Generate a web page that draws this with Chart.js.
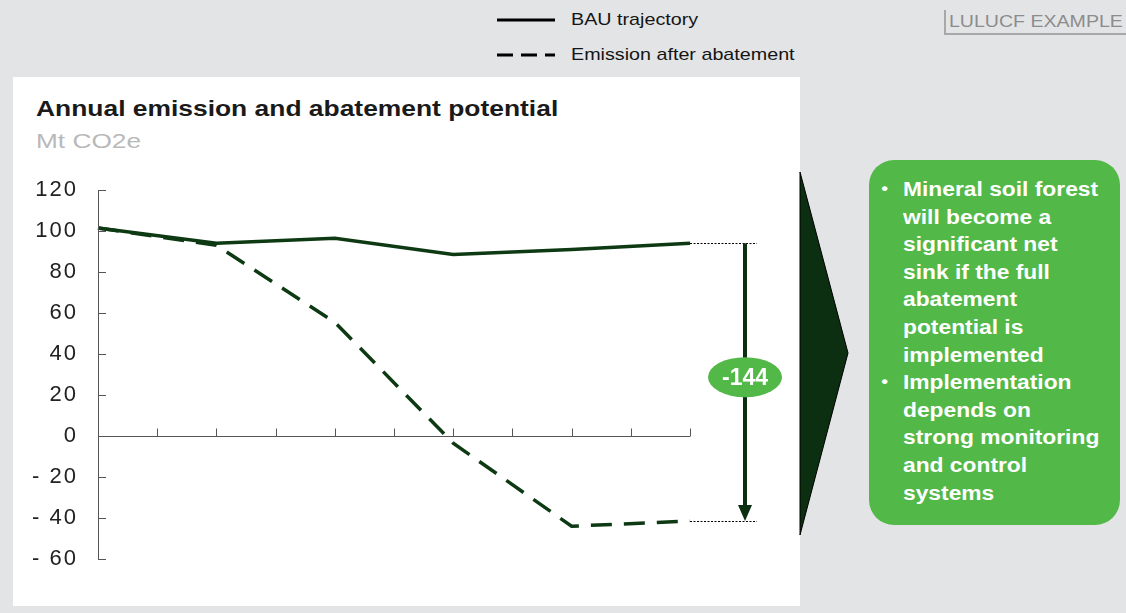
<!DOCTYPE html>
<html>
<head>
<meta charset="utf-8">
<script src="https://cdn.jsdelivr.net/npm/chart.js@4.4.1/dist/chart.umd.min.js"></script>
<style>
  html, body { margin: 0; padding: 0; }
  body { width: 1126px; height: 613px; background: #e3e4e6; position: relative; overflow: hidden;
         font-family: "Liberation Sans", Arial, sans-serif; }
  .abs { position: absolute; }
  .wide { transform-origin: 0 50%; white-space: nowrap; }
  #panel { left: 13px; top: 77px; width: 787px; height: 529px; background: #ffffff; }
  #title { left: 36px; top: 96px; font-size: 22px; font-weight: bold; color: #1a1a1a; transform: scaleX(1.2); }
  #unit { left: 36px; top: 129px; font-size: 21px; color: #b9b9b9; transform: scaleX(1.25); }
  .legtxt { left: 571px; font-size: 17px; color: #151515; transform: scaleX(1.16); }
  #tag { left: 944px; top: 10px; width: 182px; height: 25px; border-left: 2px solid #a8a8a8;
         border-bottom: 2px solid #a8a8a8; box-sizing: border-box; }
  #tag span { position: absolute; left: 3px; top: 1px; color: #8c8c8c; font-size: 17px; line-height: 22px;
              transform: scaleX(1.15); }
  #box { left: 869px; top: 160px; width: 251px; height: 365px; background: #52b848; border-radius: 25px; }
  #box ul { position: absolute; left: 34px; top: 16px; margin: 0; padding: 0; list-style: none; color: #fff;
            font-weight: bold; font-size: 20px; line-height: 27.6px; transform: scaleX(1.14); transform-origin: 0 0;
            white-space: nowrap; }
  #box li { position: relative; }
  #box li::before { content: "\2022"; position: absolute; left: -19px; top: -1px; font-size: 17px; }
  #chart { left: 0; top: 0; }
</style>
</head>
<body>
<div id="panel" class="abs"></div>
<div id="title" class="abs wide">Annual emission and abatement potential</div>
<div id="unit" class="abs wide">Mt CO2e</div>

<svg class="abs" style="left:0;top:0" width="1126" height="80">
  <line x1="497" y1="20" x2="555" y2="20" stroke="#000" stroke-width="3"/>
  <line x1="497" y1="55" x2="555" y2="55" stroke="#000" stroke-width="3" stroke-dasharray="16,8"/>
</svg>
<div class="abs legtxt wide" style="top:10px">BAU trajectory</div>
<div class="abs legtxt wide" style="top:45px">Emission after abatement</div>
<div id="tag" class="abs"><span class="wide">LULUCF EXAMPLE</span></div>

<svg class="abs" style="left:0;top:0" width="1126" height="613">
  <polygon points="800,172 848,353 800,535" fill="#0c2e11" stroke="#000" stroke-width="1"/>
</svg>

<div id="box" class="abs">
  <ul>
    <li>Mineral soil forest<br>will become a<br>significant net<br>sink if the full<br>abatement<br>potential is<br>implemented</li>
    <li>Implementation<br>depends on<br>strong monitoring<br>and control<br>systems</li>
  </ul>
</div>

<canvas id="chart" class="abs" width="1126" height="613"></canvas>

<script>
// Periods along the horizontal axis (not labelled)
const periods = ['0', '1', '2', '3', '4', '5', '6', '7', '8', '9', '10'];
// Business-as-usual trajectory, Mt CO2e
const bauValues = [101.5, null, 94, null, 96.5, null, 88.5, null, 91, null, 94];
// Emission after abatement, Mt CO2e
const abatedValues = [101.5, null, 93, null, 55.5, null, -3.5, null, -44, null, -41.5];
// Vertical axis ticks
const yMin = -60, yMax = 120, yStep = 20;
// Abatement potential label
const abatementLabel = '-144';

const lineColor = '#0d3a13';

// Slightly wider tick lettering
const tickSpacing = {
  id: 'tickSpacing',
  beforeDraw(chart) { chart.ctx.letterSpacing = '2px'; },
  afterDraw(chart) { chart.ctx.letterSpacing = '0px'; }
};

const axesAndArrow = {
  id: 'axesAndArrow',
  afterDatasetsDraw(chart) {
    const ctx = chart.ctx;
    const xs = chart.scales.x, ys = chart.scales.y;
    const left = xs.getPixelForValue(0);
    const right = xs.getPixelForValue(periods.length - 1);
    const y0 = ys.getPixelForValue(0);
    ctx.save();
    ctx.letterSpacing = '0px';
    ctx.strokeStyle = '#555';
    ctx.lineWidth = 1;
    // vertical axis with inward ticks
    ctx.beginPath();
    ctx.moveTo(left + 0.5, ys.getPixelForValue(yMax));
    ctx.lineTo(left + 0.5, ys.getPixelForValue(yMin));
    for (let v = yMin; v <= yMax; v += yStep) {
      const py = Math.round(ys.getPixelForValue(v)) + 0.5;
      ctx.moveTo(left, py);
      ctx.lineTo(left + 8, py);
    }
    // zero line with upward ticks
    const zy = Math.round(y0) + 0.5;
    ctx.moveTo(left, zy);
    ctx.lineTo(right, zy);
    for (let i = 0; i < periods.length; i++) {
      const px = Math.round(xs.getPixelForValue(i)) + 0.5;
      ctx.moveTo(px, zy);
      ctx.lineTo(px, zy - 8);
    }
    ctx.stroke();

    // abatement arrow between the final values of both series
    const last = periods.length - 1;
    const yTop = ys.getPixelForValue(bauValues[last]);
    const yBot = ys.getPixelForValue(abatedValues[last]);
    const ax = right + 55;
    ctx.strokeStyle = '#000';
    ctx.lineWidth = 1;
    ctx.setLineDash([2, 1.5]);
    ctx.beginPath();
    ctx.moveTo(right, Math.round(yTop) + 0.5); ctx.lineTo(ax + 12, Math.round(yTop) + 0.5);
    ctx.moveTo(right, Math.round(yBot) + 0.5); ctx.lineTo(ax + 12, Math.round(yBot) + 0.5);
    ctx.stroke();
    ctx.setLineDash([]);

    ctx.strokeStyle = '#0b3010';
    ctx.fillStyle = '#0b3010';
    ctx.lineWidth = 4;
    ctx.beginPath();
    ctx.moveTo(ax, yTop);
    ctx.lineTo(ax, yBot - 14);
    ctx.stroke();
    ctx.beginPath();
    ctx.moveTo(ax - 7, yBot - 16);
    ctx.lineTo(ax + 7, yBot - 16);
    ctx.lineTo(ax, yBot);
    ctx.closePath();
    ctx.fill();

    const cy = (yTop + yBot) / 2 - 5;
    ctx.fillStyle = '#52b848';
    ctx.beginPath();
    ctx.ellipse(ax, cy, 37, 20, 0, 0, Math.PI * 2);
    ctx.fill();
    ctx.fillStyle = '#ffffff';
    ctx.font = 'bold 23px "Liberation Sans", Arial, sans-serif';
    ctx.textAlign = 'center';
    ctx.textBaseline = 'middle';
    ctx.fillText(abatementLabel, ax, cy + 1);
    ctx.restore();
  }
};

new Chart(document.getElementById('chart'), {
  type: 'line',
  data: {
    labels: periods,
    datasets: [
      {
        label: 'BAU trajectory',
        data: bauValues,
        borderColor: lineColor,
        borderWidth: 3.5,
        pointRadius: 0,
        spanGaps: true,
        tension: 0,
        order: 1
      },
      {
        label: 'Emission after abatement',
        data: abatedValues,
        borderColor: lineColor,
        borderWidth: 3.5,
        borderDash: [21, 12],
        pointRadius: 0,
        spanGaps: true,
        tension: 0,
        order: 2
      }
    ]
  },
  options: {
    responsive: false,
    animation: false,
    layout: { padding: { left: 0, right: 436, top: 190, bottom: 54 } },
    plugins: { legend: { display: false }, tooltip: { enabled: false } },
    scales: {
      x: { type: 'category', display: false, offset: false },
      y: {
        min: yMin, max: yMax,
        afterFit(scale) { scale.width = 98; },
        grid: { display: false, drawTicks: false },
        border: { display: false },
        ticks: {
          stepSize: yStep,
          padding: 20,
          color: '#222',
          font: { family: '"Liberation Sans", Arial, sans-serif', size: 22 },
          callback: v => v < 0 ? '- ' + Math.abs(v) : String(v)
        }
      }
    }
  },
  plugins: [tickSpacing, axesAndArrow]
});
</script>
</body>
</html>
